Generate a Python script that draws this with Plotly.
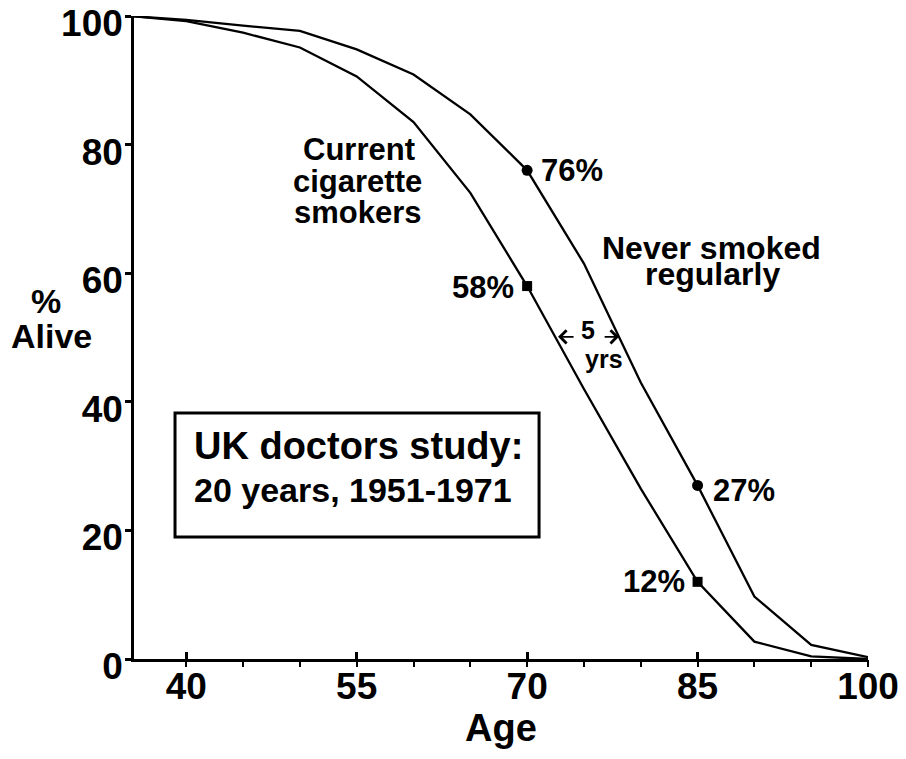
import plotly.graph_objects as go

# ---- data ----
ages = [35, 40, 45, 50, 55, 60, 65, 70, 75, 80, 85, 90, 95, 100]
never_smoked = [100, 99.4, 98.5, 97.7, 94.8, 90.9, 84.7, 76, 61.5, 43, 27, 9.7, 2.2, 0.3]
smokers = [100, 99.2, 97.4, 95.1, 90.6, 83.5, 72.5, 58, 42, 26.5, 12, 2.7, 0.4, 0]
marked_ages = [70, 85]
x_tick_vals = [40, 55, 70, 85, 100]
x_minor_vals = [40, 45, 50, 55, 60, 65, 70, 75, 80, 85, 90, 95, 100]
y_tick_vals = [0, 20, 40, 60, 80, 100]

SANS = "Liberation Sans, Arial, Helvetica, sans-serif"
BLACK = "#000000"

never_marks = [never_smoked[ages.index(a)] for a in marked_ages]
smoker_marks = [smokers[ages.index(a)] for a in marked_ages]

fig = go.Figure()
fig.add_trace(go.Scatter(x=ages, y=never_smoked, mode="lines",
                         line=dict(color=BLACK, width=2.3), name="Never smoked regularly",
                         hoverinfo="skip"))
fig.add_trace(go.Scatter(x=ages, y=smokers, mode="lines",
                         line=dict(color=BLACK, width=2.3), name="Current cigarette smokers",
                         hoverinfo="skip"))
fig.add_trace(go.Scatter(x=marked_ages, y=never_marks, mode="markers",
                         marker=dict(symbol="circle", size=11, color=BLACK), hoverinfo="skip"))
fig.add_trace(go.Scatter(x=marked_ages, y=smoker_marks, mode="markers",
                         marker=dict(symbol="square", size=10, color=BLACK), hoverinfo="skip"))
# invisible trace for the overlay axis carrying the small ticks
fig.add_trace(go.Scatter(x=[x_minor_vals[0]], y=[0], xaxis="x2", mode="markers",
                         marker=dict(opacity=0), hoverinfo="skip"))

annotations = []
lbl_font = dict(family=SANS, size=31, color=BLACK, weight="bold")

# percentage labels next to the marks
shifts_never = [(12, 0), (13, -5)]
shifts_smk = [(-11, -1), (-11, 0)]
for a, v, (dx, dy) in zip(marked_ages, never_marks, shifts_never):
    annotations.append(dict(x=a, y=v, xref="x", yref="y", text=f"{round(v)}%",
                            showarrow=False, xanchor="left", yanchor="middle",
                            xshift=dx, yshift=dy, font=lbl_font))
for a, v, (dx, dy) in zip(marked_ages, smoker_marks, shifts_smk):
    annotations.append(dict(x=a, y=v, xref="x", yref="y", text=f"{round(v)}%",
                            showarrow=False, xanchor="right", yanchor="middle",
                            xshift=dx, yshift=dy, font=lbl_font))

# series labels
for txt, x, y in [("Current", 55.2, 79.2), ("cigarette", 55.1, 74.2), ("smokers", 55.1, 69.4)]:
    annotations.append(dict(x=x, y=y, xref="x", yref="y", text=txt, showarrow=False,
                            xanchor="center", yanchor="middle", font=lbl_font))
for txt, x, y in [("Never smoked", 86.2, 63.9), ("regularly", 86.3, 59.8)]:
    annotations.append(dict(x=x, y=y, xref="x", yref="y", text=txt, showarrow=False,
                            xanchor="center", yanchor="middle",
                            font=dict(family=SANS, size=32, color=BLACK, weight="bold")))

# 5 yrs gap
small_font = dict(family=SANS, size=25, color=BLACK, weight="bold")
annotations.append(dict(x=75.37, y=51.2, xref="x", yref="y", text="5", showarrow=False,
                        xanchor="center", yanchor="middle", font=small_font))
annotations.append(dict(x=76.77, y=46.7, xref="x", yref="y", text="yrs", showarrow=False,
                        xanchor="center", yanchor="middle", font=small_font))
annotations.append(dict(x=72.72, y=50.1, ax=74.22, ay=50.1, xref="x", yref="y",
                        axref="x", ayref="y", text="", showarrow=True, arrowhead=4,
                        arrowsize=1.4, arrowwidth=1.8, arrowcolor=BLACK))
annotations.append(dict(x=78.09, y=50.1, ax=76.69, ay=50.1, xref="x", yref="y",
                        axref="x", ayref="y", text="", showarrow=True, arrowhead=4,
                        arrowsize=1.4, arrowwidth=1.8, arrowcolor=BLACK))

# boxed study note
annotations.append(dict(x=40.5, y=33.1, xref="x", yref="y", text="UK doctors study:",
                        showarrow=False, xanchor="left", yanchor="middle",
                        font=dict(family=SANS, size=38, color=BLACK, weight="bold")))
annotations.append(dict(x=40.5, y=26.3, xref="x", yref="y", text="20 years, 1951-1971",
                        showarrow=False, xanchor="left", yanchor="middle",
                        font=dict(family=SANS, size=34, color=BLACK, weight="bold")))

# y-axis title (horizontal, two lines)
ttl_font = dict(family=SANS, size=34, color=BLACK, weight="bold")
annotations.append(dict(x=-0.12, y=0.557, xref="paper", yref="paper", text="%",
                        showarrow=False, xanchor="center", yanchor="middle", font=ttl_font))
annotations.append(dict(x=-0.112, y=0.502, xref="paper", yref="paper", text="Alive",
                        showarrow=False, xanchor="center", yanchor="middle", font=ttl_font))

shapes = [dict(type="rect", xref="x", yref="y", x0=39.01, x1=71.05, y0=18.97, y1=38.26,
               line=dict(color=BLACK, width=3), fillcolor="rgba(0,0,0,0)")]

tick_font = dict(family=SANS, size=37, color=BLACK, weight="bold")

fig.update_layout(
    width=906, height=759,
    margin=dict(l=134, r=38, t=16, b=100, autoexpand=False),
    paper_bgcolor="white", plot_bgcolor="white",
    showlegend=False,
    annotations=annotations,
    shapes=shapes,
    xaxis=dict(range=[35.4, 100], tickvals=x_tick_vals, ticktext=[str(v) for v in x_tick_vals],
               ticks="inside", ticklen=7, tickwidth=2.5, tickcolor=BLACK,
               showline=True, linecolor=BLACK, linewidth=2.5, showgrid=False, zeroline=False,
               tickfont=tick_font, ticklabelstandoff=-7, ticklabeloverflow="allow",
               title=dict(text="Age", font=dict(family=SANS, size=38, color=BLACK, weight="bold"),
                          standoff=0)),
    xaxis2=dict(range=[35.4, 100], overlaying="x", anchor="y", side="bottom",
                tickvals=x_minor_vals, ticks="outside", ticklen=7, tickwidth=2, tickcolor=BLACK,
                showticklabels=False, showline=False, showgrid=False, zeroline=False),
    yaxis=dict(range=[0, 100], tickvals=y_tick_vals, ticktext=[str(v) for v in y_tick_vals],
               ticks="outside", ticklen=6, tickwidth=2.5, tickcolor=BLACK,
               showline=True, linecolor=BLACK, linewidth=2.5, showgrid=False, zeroline=False,
               tickfont=tick_font, ticklabelstandoff=-5, ticklabelshift=7,
               ticklabeloverflow="allow"),
)

fig.write_html("out.html", config={"displayModeBar": False},
               post_script="document.body.style.margin='0';")
